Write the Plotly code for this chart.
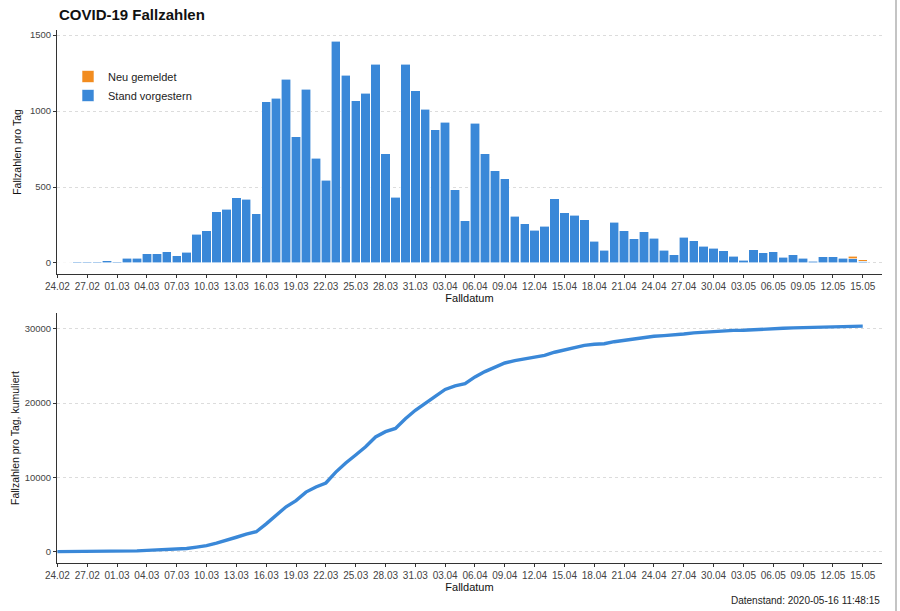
import pandas as pd
import plotly.graph_objects as go

# ---------------- data ----------------
dates = [d.strftime("%Y-%m-%d") for d in pd.date_range("2020-02-24", "2020-05-15", freq="D")]

# daily cases "Stand vorgestern" (24.02 ... 15.05)
stand_vorgestern = [
    0, 1, 8, 8, 8, 15, 7, 30, 30, 59, 59, 74, 48, 70, 190, 211, 336, 353, 430, 419, 325,
    1062, 1085, 1211, 832, 1143, 690, 543, 1461, 1237, 1069, 1117, 1307, 718, 431,
    1307, 1134, 1012, 876, 926, 482, 278, 920, 718, 607, 554, 307, 258, 215, 241,
    423, 329, 313, 285, 142, 83, 269, 212, 158, 204, 164, 83, 55, 169, 147, 110, 96,
    79, 44, 18, 88, 66, 72, 37, 53, 31, 11, 39, 39, 31, 26, 11,
]

# newly reported cases
neu_dates = ["2020-05-14", "2020-05-15"]
neu_gemeldet = [18, 11]

# cumulative cases
kumuliert = [
    0, 1, 9, 17, 25, 40, 47, 77, 107, 166, 225, 299, 347, 417, 607, 818, 1154, 1507,
    1937, 2356, 2681, 3743, 4828, 6039, 6871, 8014, 8704, 9247, 10708, 11945, 13014,
    14131, 15438, 16156, 16587, 17894, 19028, 20040, 20916, 21842, 22324, 22602,
    23522, 24240, 24847, 25401, 25708, 25966, 26181, 26422, 26845, 27174, 27487,
    27772, 27914, 27997, 28266, 28478, 28636, 28840, 29004, 29087, 29142, 29311,
    29458, 29568, 29664, 29743, 29787, 29805, 29893, 29959, 30031, 30068, 30121,
    30152, 30163, 30202, 30241, 30272, 30316, 30360,
]

tick_dates = ["2020-02-24", "2020-02-27", "2020-03-01", "2020-03-04", "2020-03-07",
              "2020-03-10", "2020-03-13", "2020-03-16", "2020-03-19", "2020-03-22",
              "2020-03-25", "2020-03-28", "2020-03-31", "2020-04-03", "2020-04-06",
              "2020-04-09", "2020-04-12", "2020-04-15", "2020-04-18", "2020-04-21",
              "2020-04-24", "2020-04-27", "2020-04-30", "2020-05-03", "2020-05-06",
              "2020-05-09", "2020-05-12", "2020-05-15"]
tick_labels = ["24.02", "27.02", "01.03", "04.03", "07.03", "10.03", "13.03", "16.03",
               "19.03", "22.03", "25.03", "28.03", "31.03", "03.04", "06.04", "09.04",
               "12.04", "15.04", "18.04", "21.04", "24.04", "27.04", "30.04", "03.05",
               "06.05", "09.05", "12.05", "15.05"]

y1_ticks = [0, 500, 1000, 1500]
y2_ticks = [0, 10000, 20000, 30000]

# ---------------- styling ----------------
W, H = 900, 611
BLUE = "#3a88d8"
ORANGE = "#f28c1f"
FONT = "Arial, Liberation Sans, sans-serif"
TICKC = "#444444"

def px_x(p):
    return p / W

def px_y(p):
    return 1 - p / H

fig = go.Figure()

fig.add_trace(go.Bar(
    x=dates, y=stand_vorgestern, name="Stand vorgestern",
    marker=dict(color=BLUE, line=dict(color="white", width=0.6)),
    xaxis="x", yaxis="y",
))
fig.add_trace(go.Bar(
    x=neu_dates, y=neu_gemeldet, name="Neu gemeldet",
    marker=dict(color=ORANGE, line=dict(color="white", width=0.6)),
    xaxis="x", yaxis="y",
))
fig.add_trace(go.Scatter(
    x=dates, y=kumuliert, mode="lines", showlegend=False,
    line=dict(color=BLUE, width=3.4),
    xaxis="x2", yaxis="y2",
))

xr = ["2020-02-23 23:00", "2020-05-16 22:30"]
common_x = dict(
    type="date", range=xr, tickmode="array", tickvals=tick_dates, ticktext=tick_labels,
    showgrid=False, zeroline=False, showline=True, linecolor="#333333", linewidth=1,
    ticks="outside", ticklen=3, tickcolor="#333333", tickwidth=1,
    tickfont=dict(family=FONT, size=10, color=TICKC),
    domain=[px_x(57), px_x(882)], automargin=False,
    title=dict(text="Falldatum", font=dict(family=FONT, size=11, color="#111111"), standoff=1),
)
common_y = dict(
    showgrid=True, gridcolor="#dcdcdc", griddash="dot", gridwidth=1, zeroline=False,
    showline=True, linecolor="#333333", linewidth=1,
    ticks="outside", ticklen=3, tickcolor="#333333", tickwidth=1,
    tickfont=dict(family=FONT, size=9.5, color=TICKC),
    tickmode="array", automargin=False,
)

fig.update_layout(
    width=W, height=H,
    margin=dict(l=0, r=0, t=0, b=0, autoexpand=False),
    paper_bgcolor="white", plot_bgcolor="white",
    barmode="stack", bargap=0.06,
    font=dict(family=FONT),
    xaxis=dict(common_x, anchor="y"),
    yaxis=dict(common_y, domain=[px_y(274), px_y(30)], range=[-73, 1534],
               tickvals=y1_ticks, ticktext=[str(v) for v in y1_ticks], anchor="x",
               title=dict(text="Fallzahlen pro Tag", font=dict(family=FONT, size=10.5, color="#111111"), standoff=6)),
    xaxis2=dict(common_x, anchor="y2"),
    yaxis2=dict(common_y, domain=[px_y(563), px_y(313)], range=[-1530, 32130],
                tickvals=y2_ticks, ticktext=[str(v) for v in y2_ticks], anchor="x2",
                title=dict(text="Fallzahlen pro Tag, kumuliert", font=dict(family=FONT, size=10.5, color="#111111"), standoff=3)),
    legend=dict(
        x=px_x(68), y=px_y(62), xanchor="left", yanchor="top",
        traceorder="reversed", bgcolor="rgba(0,0,0,0)",
        font=dict(family=FONT, size=11, color="#222222"),
        tracegroupgap=0,
    ),
    showlegend=True,
    annotations=[
        dict(text="<b>COVID-19 Fallzahlen</b>", x=px_x(57), y=px_y(15), xref="paper", yref="paper",
             xanchor="left", yanchor="middle", showarrow=False,
             font=dict(family=FONT, size=15, color="#111111")),
        dict(text="Datenstand: 2020-05-16 11:48:15", x=px_x(882), y=px_y(600), xref="paper", yref="paper",
             xanchor="right", yanchor="middle", showarrow=False,
             font=dict(family=FONT, size=10, color="#222222")),
    ],
    shapes=[
        dict(type="line", xref="paper", yref="paper", x0=px_x(896), x1=px_x(896), y0=0, y1=1,
             line=dict(color="#b0b0b0", width=1.5)),
    ],
)

fig.write_html("out.html", config={"displayModeBar": False},
               post_script="document.body.style.margin='0px';document.body.style.overflow='hidden';")
